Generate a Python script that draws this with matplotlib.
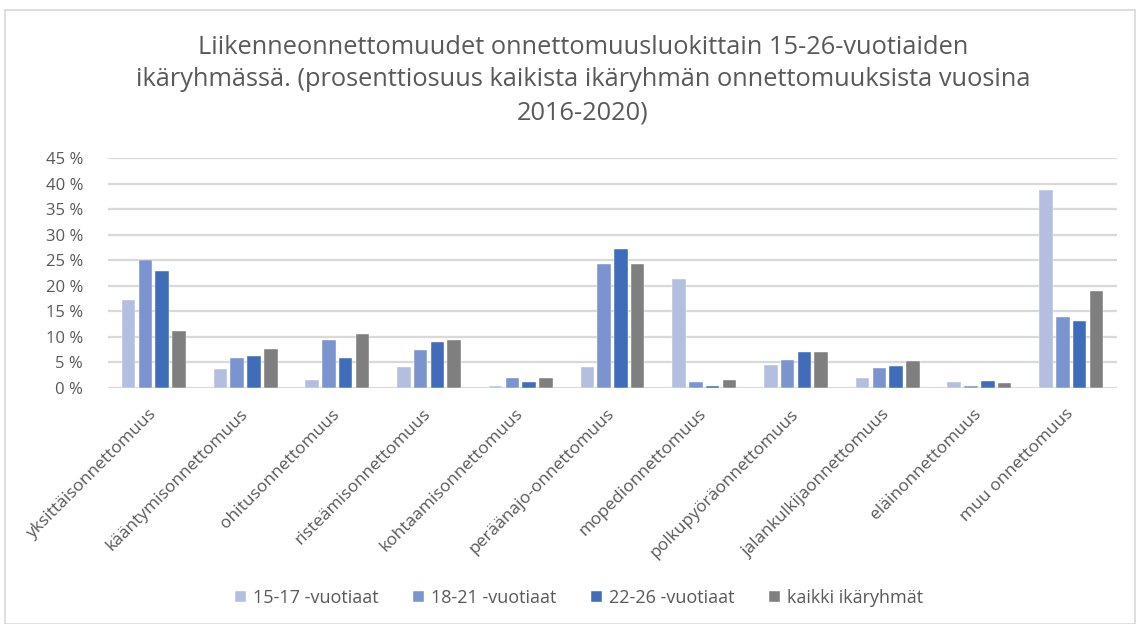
import matplotlib
matplotlib.use("Agg")
import matplotlib.pyplot as plt
import matplotlib.transforms as mtransforms
import numpy as np
from matplotlib.patches import Rectangle

categories = ["yksittäisonnettomuus", "kääntymisonnettomuus", "ohitusonnettomuus",
              "risteämisonnettomuus", "kohtaamisonnettomuus", "peräänajo-onnettomuus",
              "mopedionnettomuus", "polkupyöräonnettomuus", "jalankulkijaonnettomuus",
              "eläinonnettomuus", "muu onnettomuus"]
series_names = ["15-17 -vuotiaat", "18-21 -vuotiaat", "22-26 -vuotiaat", "kaikki ikäryhmät"]
v_15_17 = [17.2, 3.7, 1.6, 4.1, 0.3, 4.1, 21.4, 4.5, 2.0, 1.2, 38.7]
v_18_21 = [25.1, 5.9, 9.4, 7.5, 2.0, 24.2, 1.2, 5.5, 3.9, 0.4, 13.8]
v_22_26 = [22.8, 6.2, 5.9, 9.0, 1.2, 27.2, 0.4, 7.1, 4.3, 1.4, 13.2]
v_all = [11.1, 7.6, 10.5, 9.4, 2.0, 24.2, 1.6, 7.1, 5.3, 1.0, 18.9]
colors = ["#B4BFE0", "#7B94D0", "#416CB9", "#7F7F7F"]
yticks = [0, 5, 10, 15, 20, 25, 30, 35, 40, 45]
title = ("Liikenneonnettomuudet onnettomuusluokittain 15-26-vuotiaiden\n"
         "ikäryhmässä. (prosenttiosuus kaikista ikäryhmän onnettomuuksista vuosina\n"
         "2016-2020)")

plt.rcParams['font.family'] = ['Open Sans', 'DejaVu Sans']
txt = "#595959"

W, H = 1138, 624
fig = plt.figure(figsize=(W / 100, H / 100), dpi=100)
fig.patches.append(Rectangle((5 / W, 0), (1130) / W, (624 - 10) / H, transform=fig.transFigure,
                             fill=False, edgecolor="#D9D9D9", linewidth=1.2))

ax = fig.add_axes([108 / W, 1 - 388 / H, (1117 - 108) / W, (388 - 158) / H])
x = np.arange(len(categories))
data = [v_15_17, v_18_21, v_22_26, v_all]
bw = 0.148
step = 0.183
for i, (vals, c, name) in enumerate(zip(data, colors, series_names)):
    ax.bar(x + (i - 1.5) * step, vals, width=bw, color=c, label=name,
           edgecolor="white", linewidth=0.3, zorder=3)

ax.set_xlim(-0.5, len(categories) - 0.5)
ax.set_ylim(0, 45)
ax.set_yticks(yticks)
ax.set_yticklabels([f"{t} %" for t in yticks], color=txt, fontsize=12)
ax.yaxis.grid(True, color="#D9D9D9", linewidth=1.6, zorder=0)
ax.tick_params(axis='both', length=0)
ax.tick_params(axis='y', pad=18)
for s in ax.spines.values():
    s.set_visible(False)
ax.set_xticks(x)
ax.set_xticklabels(categories, rotation=45, ha='right', rotation_mode='anchor',
                   color=txt, fontsize=12.5)
ax.tick_params(axis='x', pad=13)
offset = mtransforms.ScaledTranslation(-6 / 100, 0, fig.dpi_scale_trans)
for lbl in ax.get_xticklabels():
    lbl.set_transform(lbl.get_transform() + offset)

fig.text(583 / W, 1 - 80 / H, title, ha='center', va='center', fontsize=18.3,
         color=txt, linespacing=1.42)

handles, labels = ax.get_legend_handles_labels()
fig.legend(handles, labels, loc='center', bbox_to_anchor=(579 / W, 1 - 598 / H), ncol=4,
           frameon=False, fontsize=13, labelcolor=txt, handlelength=0.6, handleheight=0.6,
           handletextpad=0.4, columnspacing=1.9)

fig.savefig("out.png", dpi=100)
